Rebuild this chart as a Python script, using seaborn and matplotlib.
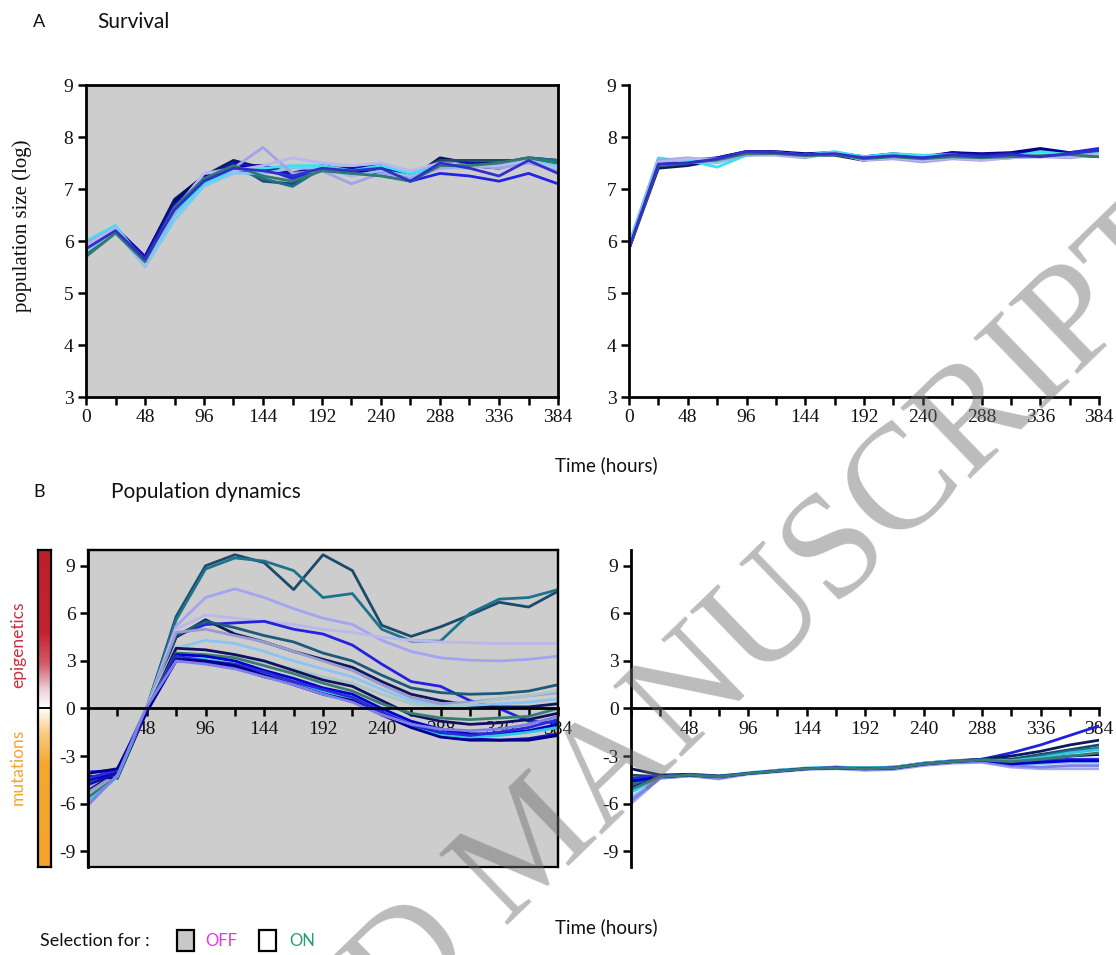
import numpy as np
import pandas as pd
import matplotlib
matplotlib.use("Agg")
import matplotlib.pyplot as plt
import seaborn as sns
from matplotlib.colors import LinearSegmentedColormap
from matplotlib.patches import Rectangle

# ---------------- data ----------------
time_h = [0, 24, 48, 72, 96, 120, 144, 168, 192, 216, 240, 264, 288, 312, 336, 360, 384]

# Panel A, selection OFF (log population size)
a_off_names = ["navy", "darkteal", "teal", "darkblue", "brightblue", "blue", "lightblue",
               "cyan", "lavender", "paleviolet", "greenteal", "royal"]
a_off_colors = ["#0b1a5c", "#1b4a6b", "#1f6f8b", "#00008b", "#2323e6", "#1414b4", "#8cc4f0",
                "#40e0f0", "#a2a2e8", "#b8b8f0", "#2f7b70", "#3030c8"]
a_off_values = [
    [5.85, 6.20, 5.70, 6.80, 7.25, 7.55, 7.40, 7.25, 7.45, 7.30, 7.35, 7.20, 7.60, 7.50, 7.50, 7.60, 7.55],
    [5.80, 6.25, 5.65, 6.75, 7.20, 7.50, 7.15, 7.10, 7.40, 7.35, 7.40, 7.25, 7.55, 7.55, 7.55, 7.55, 7.50],
    [5.75, 6.20, 5.60, 6.70, 7.20, 7.40, 7.20, 7.05, 7.40, 7.30, 7.30, 7.20, 7.50, 7.45, 7.45, 7.60, 7.55],
    [5.90, 6.25, 5.70, 6.75, 7.25, 7.45, 7.45, 7.30, 7.45, 7.35, 7.30, 7.25, 7.50, 7.45, 7.40, 7.55, 7.40],
    [5.90, 6.20, 5.65, 6.60, 7.15, 7.40, 7.40, 7.20, 7.40, 7.30, 7.30, 7.15, 7.30, 7.25, 7.15, 7.30, 7.10],
    [5.85, 6.25, 5.70, 6.70, 7.20, 7.50, 7.40, 7.30, 7.40, 7.40, 7.45, 7.20, 7.45, 7.50, 7.45, 7.55, 7.45],
    [5.80, 6.20, 5.50, 6.40, 7.05, 7.30, 7.30, 7.40, 7.40, 7.25, 7.35, 7.25, 7.40, 7.40, 7.50, 7.50, 7.40],
    [6.00, 6.30, 5.55, 6.50, 7.10, 7.35, 7.40, 7.45, 7.45, 7.35, 7.45, 7.30, 7.45, 7.45, 7.45, 7.55, 7.45],
    [5.95, 6.25, 5.60, 6.55, 7.30, 7.40, 7.80, 7.30, 7.35, 7.10, 7.30, 7.20, 7.40, 7.45, 7.40, 7.50, 7.35],
    [5.90, 6.25, 5.55, 6.60, 7.30, 7.35, 7.45, 7.60, 7.50, 7.45, 7.50, 7.35, 7.50, 7.45, 7.45, 7.55, 7.40],
    [5.70, 6.15, 5.60, 6.65, 7.20, 7.45, 7.25, 7.15, 7.35, 7.30, 7.25, 7.15, 7.45, 7.45, 7.50, 7.60, 7.50],
    [5.85, 6.20, 5.65, 6.60, 7.15, 7.40, 7.35, 7.25, 7.40, 7.35, 7.40, 7.15, 7.50, 7.40, 7.25, 7.55, 7.30],
]

# Panel A, selection ON
a_on_names = a_off_names
a_on_colors = a_off_colors
a_on_values = [
    [5.85, 7.40, 7.45, 7.55, 7.70, 7.70, 7.65, 7.65, 7.55, 7.65, 7.60, 7.70, 7.65, 7.68, 7.75, 7.65, 7.62],
    [5.90, 7.45, 7.48, 7.58, 7.70, 7.68, 7.66, 7.68, 7.58, 7.62, 7.58, 7.65, 7.60, 7.62, 7.62, 7.65, 7.65],
    [5.88, 7.50, 7.50, 7.55, 7.68, 7.68, 7.65, 7.70, 7.60, 7.60, 7.55, 7.62, 7.58, 7.60, 7.65, 7.68, 7.70],
    [5.85, 7.55, 7.55, 7.60, 7.72, 7.72, 7.68, 7.70, 7.62, 7.68, 7.62, 7.70, 7.68, 7.70, 7.78, 7.70, 7.75],
    [5.90, 7.55, 7.52, 7.58, 7.70, 7.70, 7.65, 7.68, 7.60, 7.65, 7.60, 7.68, 7.65, 7.68, 7.65, 7.70, 7.78],
    [5.87, 7.50, 7.48, 7.60, 7.72, 7.70, 7.67, 7.70, 7.62, 7.66, 7.62, 7.68, 7.66, 7.68, 7.68, 7.68, 7.72],
    [5.92, 7.60, 7.52, 7.50, 7.65, 7.68, 7.62, 7.68, 7.62, 7.62, 7.60, 7.62, 7.58, 7.62, 7.68, 7.62, 7.70],
    [5.95, 7.58, 7.55, 7.42, 7.65, 7.70, 7.65, 7.72, 7.62, 7.68, 7.65, 7.66, 7.60, 7.62, 7.72, 7.66, 7.68],
    [5.90, 7.55, 7.60, 7.55, 7.65, 7.65, 7.60, 7.70, 7.55, 7.58, 7.52, 7.58, 7.55, 7.60, 7.62, 7.60, 7.65],
    [5.88, 7.52, 7.58, 7.58, 7.68, 7.66, 7.62, 7.68, 7.56, 7.60, 7.55, 7.60, 7.56, 7.60, 7.64, 7.62, 7.66],
    [5.85, 7.45, 7.50, 7.56, 7.68, 7.68, 7.64, 7.66, 7.58, 7.62, 7.58, 7.62, 7.60, 7.62, 7.64, 7.66, 7.62],
    [5.86, 7.48, 7.50, 7.58, 7.72, 7.70, 7.66, 7.68, 7.60, 7.64, 7.60, 7.66, 7.62, 7.66, 7.62, 7.68, 7.74],
]

# Panel B, selection OFF (population dynamics)
b_off_names = ["teal_dark", "teal", "lavender", "palelavender", "brightblue", "navy", "darkteal",
               "lightblue", "lavgray", "paleteal", "navy2", "greenteal", "blue2", "blue3", "cyan",
               "royal", "darkblue", "periwinkle"]
b_off_colors = ["#1b4a6b", "#1f728c", "#a4a4f2", "#b9b9ee", "#2222e0", "#0b1a5c", "#1d5a7a",
                "#8cc4f0", "#9a9ad0", "#a8c8c8", "#101060", "#3a7d70", "#0000cd", "#1010b0", "#30c8e0",
                "#2a2ad8", "#00008b", "#8080e8"]
b_off_values = [
    [-4.3, -4.2, 0.0, 5.8, 9.0, 9.7, 9.2, 7.5, 9.7, 8.7, 5.25, 4.55, 5.15, 5.9, 6.7, 6.4, 7.4],
    [-4.4, -3.9, 0.1, 5.6, 8.8, 9.5, 9.3, 8.7, 7.0, 7.25, 5.0, 4.25, 4.25, 6.0, 6.9, 7.0, 7.5],
    [-5.0, -4.2, 0.0, 5.2, 7.0, 7.55, 7.0, 6.3, 5.7, 5.3, 4.3, 3.6, 3.2, 3.05, 3.0, 3.1, 3.3],
    [-5.5, -4.0, 0.1, 5.0, 5.9, 5.7, 5.5, 5.3, 5.0, 4.8, 4.5, 4.3, 4.2, 4.15, 4.1, 4.1, 4.1],
    [-4.0, -3.9, 0.0, 4.6, 5.3, 5.4, 5.5, 5.0, 4.7, 4.0, 2.8, 1.7, 1.4, 0.5, 0.0, -0.8, -0.9],
    [-5.2, -4.0, -0.1, 4.5, 5.6, 4.7, 4.2, 3.6, 3.1, 2.6, 1.7, 0.9, 0.5, 0.2, 0.1, 0.1, 0.3],
    [-4.6, -4.1, 0.0, 4.6, 5.5, 5.1, 4.6, 4.2, 3.5, 3.0, 2.1, 1.3, 1.0, 0.9, 0.95, 1.1, 1.5],
    [-6.0, -4.2, 0.1, 3.8, 4.3, 4.1, 3.6, 3.0, 2.5, 2.0, 1.2, 0.5, 0.2, 0.2, 0.3, 0.4, 0.6],
    [-5.3, -4.1, 0.0, 4.8, 5.0, 4.6, 4.2, 3.6, 3.0, 2.4, 1.5, 0.7, 0.3, 0.4, 0.6, 0.8, 1.0],
    [-5.8, -4.2, 0.1, 3.9, 3.7, 3.4, 2.9, 2.5, 2.0, 1.6, 0.9, 0.3, 0.1, 0.3, 0.6, 0.8, 1.1],
    [-4.3, -4.4, -0.2, 3.8, 3.7, 3.4, 3.0, 2.4, 1.8, 1.4, 0.5, -0.4, -0.8, -1.0, -0.9, -0.7, -0.3],
    [-5.6, -4.3, 0.0, 3.5, 3.4, 3.2, 2.7, 2.2, 1.6, 1.1, 0.3, -0.3, -0.6, -0.7, -0.6, -0.5, 0.0],
    [-4.5, -4.0, -0.1, 3.4, 3.3, 3.0, 2.4, 1.9, 1.3, 0.9, 0.0, -0.8, -1.3, -1.6, -1.6, -1.4, -1.0],
    [-4.8, -4.1, -0.2, 3.0, 2.9, 2.6, 2.0, 1.6, 1.0, 0.6, -0.3, -1.1, -1.6, -1.9, -2.0, -1.9, -1.6],
    [-5.9, -4.3, 0.0, 3.2, 3.1, 2.8, 2.2, 1.7, 1.1, 0.6, -0.3, -1.2, -1.7, -1.8, -1.7, -1.5, -1.2],
    [-4.4, -3.9, -0.1, 3.3, 3.0, 2.8, 2.3, 1.7, 1.2, 0.7, -0.2, -1.0, -1.5, -1.7, -1.5, -1.2, -0.7],
    [-4.1, -3.8, -0.2, 3.1, 3.0, 2.7, 2.1, 1.5, 0.9, 0.5, -0.4, -1.2, -1.8, -2.0, -2.0, -2.0, -1.7],
    [-6.1, -4.2, 0.1, 3.0, 2.8, 2.5, 2.0, 1.5, 0.9, 0.4, -0.4, -1.0, -1.3, -1.4, -1.3, -1.0, -0.5],
]

# Panel B, selection ON
b_on_names = ["blue", "navy", "darkteal", "teal", "darkblue", "cyan", "lightblue", "lavender",
              "periwinkle", "royal", "blue2", "greenteal"]
b_on_colors = ["#2020e0", "#0b1a5c", "#1b4a6b", "#1f728c", "#00008b", "#30c8e0", "#8cc4f0", "#a4a4f2",
               "#8080e8", "#2a2ad8", "#0000cd", "#3a7d70"]
b_on_values = [
    [-4.5, -4.3, -4.2, -4.3, -4.1, -3.95, -3.8, -3.75, -3.8, -3.75, -3.5, -3.35, -3.2, -2.8, -2.3, -1.7, -1.1],
    [-3.8, -4.2, -4.15, -4.25, -4.1, -3.9, -3.8, -3.7, -3.75, -3.7, -3.45, -3.3, -3.2, -3.0, -2.7, -2.3, -2.0],
    [-4.2, -4.3, -4.2, -4.3, -4.1, -3.95, -3.8, -3.75, -3.8, -3.75, -3.5, -3.35, -3.25, -3.2, -2.9, -2.6, -2.3],
    [-4.8, -4.3, -4.2, -4.3, -4.1, -3.95, -3.8, -3.75, -3.8, -3.75, -3.5, -3.35, -3.25, -3.3, -3.0, -2.7, -2.5],
    [-5.0, -4.35, -4.2, -4.35, -4.1, -3.95, -3.8, -3.75, -3.8, -3.75, -3.5, -3.35, -3.25, -3.5, -3.2, -3.0, -2.9],
    [-5.3, -4.3, -4.2, -4.3, -4.05, -3.9, -3.75, -3.7, -3.75, -3.7, -3.45, -3.3, -3.25, -3.3, -3.1, -2.8, -2.6],
    [-5.6, -4.35, -4.2, -4.35, -4.1, -3.95, -3.8, -3.75, -3.8, -3.75, -3.5, -3.35, -3.3, -3.5, -3.5, -3.4, -3.4],
    [-6.0, -4.4, -4.25, -4.45, -4.15, -4.0, -3.85, -3.8, -3.9, -3.85, -3.6, -3.45, -3.4, -3.7, -3.8, -3.8, -3.8],
    [-5.8, -4.4, -4.25, -4.4, -4.1, -3.95, -3.8, -3.75, -3.85, -3.8, -3.55, -3.4, -3.35, -3.6, -3.7, -3.6, -3.6],
    [-4.4, -4.3, -4.2, -4.3, -4.1, -3.95, -3.8, -3.75, -3.8, -3.75, -3.5, -3.35, -3.25, -3.4, -3.3, -3.2, -3.2],
    [-4.6, -4.3, -4.2, -4.3, -4.1, -3.95, -3.8, -3.75, -3.8, -3.75, -3.5, -3.35, -3.25, -3.5, -3.4, -3.3, -3.3],
    [-5.1, -4.3, -4.2, -4.3, -4.1, -3.95, -3.8, -3.75, -3.8, -3.75, -3.5, -3.35, -3.25, -3.35, -3.2, -3.0, -2.8],
]

a_yticks = [3, 4, 5, 6, 7, 8, 9]
b_yticks = [-9, -6, -3, 0, 3, 6, 9]

# ---------------- style ----------------
sns.set_theme(style="ticks")
SERIF = ["Liberation Serif", "DejaVu Serif"]
SANS = ["Lato", "DejaVu Sans"]
plt.rcParams["font.family"] = SERIF

W, H = 1116, 955
fig = plt.figure(figsize=(W / 100, H / 100), dpi=100)


def px_rect(x0, x1, ytop, ybot):
    return [x0 / W, 1 - ybot / H, (x1 - x0) / W, (ybot - ytop) / H]


def long_df(names, values):
    return pd.DataFrame({
        "time": np.tile(time_h, len(names)),
        "value": np.concatenate([np.asarray(v, float) for v in values]),
        "run": np.repeat(names, len(time_h)),
    })


def draw_lines(ax, names, colors, values):
    df = long_df(names, values)
    sns.lineplot(data=df, x="time", y="value", hue="run", hue_order=names,
                 palette=dict(zip(names, colors)), estimator=None, legend=False,
                 linewidth=2.0, ax=ax)


def style_axes(ax, yticks, ylim, gray, zero_axis, show_x0):
    ax.set_xlim(0, 384)
    ax.set_ylim(*ylim)
    xt = np.arange(0, 385, 24)
    ax.set_xticks(xt)
    labels = [str(t) if t % 48 == 0 else "" for t in xt]
    if not show_x0:
        labels[0] = ""
    ax.set_xticklabels(labels)
    ax.set_yticks(yticks)
    ax.set_yticklabels([str(t) for t in yticks])
    ax.set_xlabel("")
    ax.set_ylabel("")
    ax.tick_params(direction="out", length=6, width=1.8, labelsize=14, pad=3, colors="black",
                   labelcolor="#111111")
    for lab in ax.get_xticklabels() + ax.get_yticklabels():
        lab.set_family(SERIF)
    for s in ax.spines.values():
        s.set_linewidth(2.0)
        s.set_color("black")
    if gray:
        ax.set_facecolor("#cdcdcd")
    else:
        ax.set_facecolor("white")
        ax.spines["top"].set_visible(False)
        ax.spines["right"].set_visible(False)
    if zero_axis:
        ax.spines["bottom"].set_position(("data", 0))
        if gray:
            ax.spines["top"].set_linewidth(1.6)
            ax.spines["right"].set_linewidth(1.6)
            ax.add_patch(Rectangle((0, 0), 1, 1, transform=ax.transAxes, fill=False,
                                   edgecolor="black", linewidth=1.6, zorder=6, clip_on=False))


# Panel A
axA1 = fig.add_axes(px_rect(86, 558, 85, 397))
draw_lines(axA1, a_off_names, a_off_colors, a_off_values)
style_axes(axA1, a_yticks, (3, 9), gray=True, zero_axis=False, show_x0=True)

axA2 = fig.add_axes(px_rect(629, 1099, 85, 397))
draw_lines(axA2, a_on_names, a_on_colors, a_on_values)
style_axes(axA2, a_yticks, (3, 9), gray=False, zero_axis=False, show_x0=True)

fig.text(22 / W, 1 - 226 / H, "population size (log)", rotation=90, ha="center", va="center",
         fontsize=15, family=SERIF, color="#111111")

# Panel B
axB1 = fig.add_axes(px_rect(88, 558, 550, 867))
draw_lines(axB1, b_off_names, b_off_colors, b_off_values)
style_axes(axB1, b_yticks, (-10, 10), gray=True, zero_axis=True, show_x0=False)
axB1.set_axisbelow(True)

axB2 = fig.add_axes(px_rect(631, 1099, 550, 867))
draw_lines(axB2, b_on_names, b_on_colors, b_on_values)
style_axes(axB2, b_yticks, (-10, 10), gray=False, zero_axis=True, show_x0=False)

# colour bar (mutations / epigenetics)
cmap = LinearSegmentedColormap.from_list("mut_epi", [
    (0.0, "#f4a42a"), (0.32, "#f5a72e"), (0.42, "#f9cc80"), (0.5, "#ffffff"),
    (0.56, "#ead0d6"), (0.64, "#d35b6a"), (0.74, "#c4222f"), (1.0, "#c01e2b")])
cax = fig.add_axes(px_rect(38, 51, 550, 867))
grad = np.linspace(-10, 10, 400).reshape(-1, 1)
cax.imshow(grad, aspect="auto", cmap=cmap, extent=[0, 1, -10, 10], origin="lower", vmin=-10, vmax=10)
cax.axhline(0, color="black", linewidth=1.4)
cax.set_xticks([])
cax.set_yticks([])
for s in cax.spines.values():
    s.set_visible(True)
    s.set_linewidth(1.6)
    s.set_color("black")

fig.text(18 / W, 1 - 645 / H, "epigenetics", rotation=90, ha="center", va="center",
         fontsize=12.5, color="#c8313f", family=SANS)
fig.text(18 / W, 1 - 767 / H, "mutations", rotation=90, ha="center", va="center",
         fontsize=12.5, color="#f3a531", family=SANS)

# titles and labels
fig.text(33 / W, 1 - 22 / H, "A", fontsize=13, va="center", ha="left", family=SANS, color="#111111")
fig.text(97 / W, 1 - 22 / H, "Survival", fontsize=15, va="center", ha="left", family=SANS, color="#111111")
fig.text(33 / W, 1 - 492 / H, "B", fontsize=13, va="center", ha="left", family=SANS, color="#111111")
fig.text(111 / W, 1 - 492 / H, "Population dynamics", fontsize=15, va="center", ha="left",
         family=SANS, color="#111111")
fig.text(606 / W, 1 - 465 / H, "Time (hours)", fontsize=13.5, va="center", ha="center", family=SANS,
         color="#111111")
fig.text(606 / W, 1 - 927 / H, "Time (hours)", fontsize=13.5, va="center", ha="center", family=SANS,
         color="#111111")

# selection legend
fig.text(40 / W, 1 - 941 / H, "Selection for :", fontsize=13, va="center", ha="left", family=SANS,
         color="#111111")
fig.patches.append(Rectangle((177 / W, 1 - 951 / H), 17 / W, 21 / H, transform=fig.transFigure,
                             facecolor="#c8c8c8", edgecolor="black", linewidth=1.6, figure=fig))
fig.text(205 / W, 1 - 941 / H, "OFF", fontsize=12, va="center", ha="left", family=SANS, color="#e636e6")
fig.patches.append(Rectangle((259 / W, 1 - 951 / H), 17 / W, 21 / H, transform=fig.transFigure,
                             facecolor="white", edgecolor="black", linewidth=1.6, figure=fig))
fig.text(289 / W, 1 - 941 / H, "ON", fontsize=12, va="center", ha="left", family=SANS, color="#22a06b")

# watermark
fig.text(535 / W, 1 - 848 / H, "ACCEPTED MANUSCRIPT", rotation=44, rotation_mode="anchor",
         fontsize=108, family=SERIF, color="#6a6a6a", alpha=0.45, ha="center", va="center", zorder=20)

fig.savefig("out.png", dpi=100)
